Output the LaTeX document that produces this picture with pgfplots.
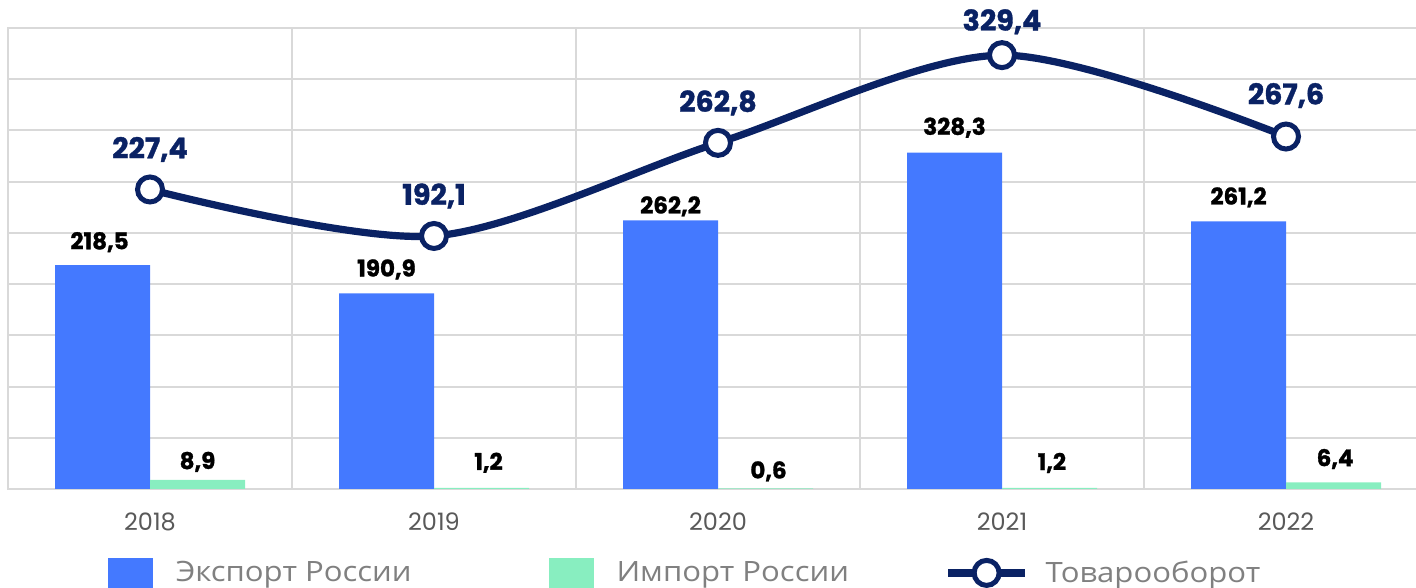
\documentclass[border=0pt]{standalone}
\usepackage{pgfplots}
\pgfplotsset{compat=1.18}
\usepackage{pgfplotstable}
\usepackage{fontspec}
\setmainfont{Open Sans}[FakeStretch=1.11]
\newfontfamily\numfont{Poppins}
\newfontfamily\numheavy{Poppins}[BoldFeatures={FakeBold=1.2}]
\definecolor{expblue}{HTML}{4479FF}
\definecolor{impgreen}{HTML}{88EEC0}
\definecolor{navy}{HTML}{0A2264}
\definecolor{gridgray}{HTML}{D9D9D9}
\definecolor{ticktext}{HTML}{595959}
\definecolor{legtext}{HTML}{808080}
\pgfplotsset{tradeleg/.style={legend image code/.code={\draw[##1, mark repeat=2, mark phase=2] plot coordinates {(0bp,0bp) (19.25bp,0bp) (38.5bp,0bp)};}}}

\pgfplotstableread{
x exp elbl edx edy imp ilbl idx idy
0 218.5 218,5 -25.25 11.5 8.9 8,9 23.75 9
1 190.9 190,9 -23.75 12 1.2 1,2 27.25 12.5
2 262.2 262,2 -23.75 7 0.6 0,6 25.25 8.5
3 328.3 328,3 -23.75 12.5 1.2 1,2 24.95 12.4
4 261.2 261,2 -23.75 12 6.4 6,4 24.55 11.7
}\bars
\pgfplotstableread{
x tot tlbl tdy
0 227.4 227,4 20
1 192.1 192,1 20
2 262.8 262,8 20
3 329.4 329,4 16.7
4 267.6 267,6 20.5
}\trade

\begin{document}
\begin{tikzpicture}
\useasboundingbox (-4bp,-49.5bp) rectangle (704bp,244.5bp);
\clip (-4bp,-49.5bp) rectangle (704bp,244.5bp);
\begin{axis}[
  at={(0,0)}, anchor=south west,
  scale only axis, width=710bp, height=230.5bp,
  xmin=-0.5, xmax=4.5, ymin=0, ymax=450,
  xtick={0,1,2,3,4}, xticklabels={2018,2019,2020,2021,2022},
  minor xtick={-0.5,0.5,1.5,2.5,3.5,4.5}, xminorgrids,
  ytick={0,50,...,450}, yticklabels={}, ymajorgrids,
  major tick length=0, minor tick length=0,
  grid style={gridgray, line width=1bp},
  minor grid style={gridgray, line width=1bp},
  axis line style={gridgray, line width=1bp},
  xticklabel style={font=\numfont\fontsize{12bp}{14bp}\selectfont, text=ticktext, anchor=base, yshift=-20.5bp},
]
\addplot[ybar, bar width=0.3345, bar shift=-0.16725, fill=expblue, draw=none,
  point meta=explicit symbolic,
  visualization depends on={\thisrow{edx} \as \dx},
  visualization depends on={\thisrow{edy} \as \dy},
  nodes near coords={\pgfplotspointmeta},
  every node near coord/.append style={anchor=center, xshift=\dx*1bp, yshift=\dy*1bp,
    font=\numheavy\bfseries\fontsize{11.5bp}{13bp}\selectfont, text=black}]
  table[x=x, y=exp, meta=elbl] {\bars};
\addplot[ybar, bar width=0.3345, bar shift=0.16725, fill=impgreen, draw=none,
  point meta=explicit symbolic,
  visualization depends on={\thisrow{idx} \as \dx},
  visualization depends on={\thisrow{idy} \as \dy},
  nodes near coords={\pgfplotspointmeta},
  every node near coord/.append style={anchor=center, xshift=\dx*1bp, yshift=\dy*1bp,
    font=\numheavy\bfseries\fontsize{11.5bp}{13bp}\selectfont, text=black}]
  table[x=x, y=imp, meta=ilbl] {\bars};
\end{axis}
\begin{axis}[
  at={(0,0)}, anchor=south west,
  scale only axis, width=710bp, height=230.5bp,
  xmin=-0.5, xmax=4.5, ymin=0, ymax=350,
  axis lines=none, xtick=\empty, ytick=\empty, clip=false,
  legend columns=3,
  legend style={at={(0.07042,-0.1963)}, anchor=west, draw=none, fill=none,
    inner sep=0pt, outer sep=0pt, column sep=9.5bp,
    font=\fontsize{14bp}{16bp}\selectfont, text=legtext},
  legend cell align=left,
]
\addlegendimage{legend image code/.code={\fill[expblue] (0bp,-14.5bp) rectangle (22bp,7.5bp);}}
\addlegendentry{\makebox[175bp][l]{Экспорт России}}
\addlegendimage{legend image code/.code={\fill[impgreen] (0bp,-14.5bp) rectangle (22bp,7.5bp);}}
\addlegendentry{\makebox[152.5bp][l]{Импорт России}}
\addlegendimage{navy, line width=3.6bp, mark=*, mark size=6.25bp,
  mark options={fill=white, draw=navy, line width=2.5bp}, tradeleg}
\addlegendentry{\hspace*{-3bp}Товарооборот}
\addplot[navy, line width=3.6bp, smooth, mark=*, mark size=6.25bp,
  mark options={fill=white, draw=navy, line width=2.5bp, solid}, forget plot,
  point meta=explicit symbolic,
  visualization depends on={\thisrow{tdy} \as \dy},
  nodes near coords={\pgfplotspointmeta},
  every node near coord/.append style={anchor=center, yshift=\dy*1bp,
    font=\numheavy\bfseries\fontsize{14.3bp}{16bp}\selectfont, text=navy}]
  table[x=x, y=tot, meta=tlbl] {\trade};
\end{axis}
\end{tikzpicture}
\end{document}
